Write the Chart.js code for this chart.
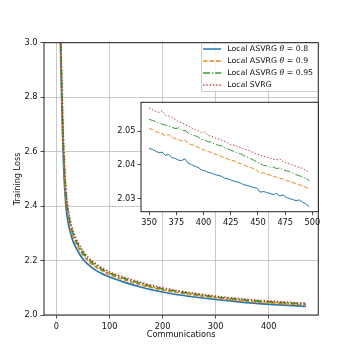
<!DOCTYPE html>
<html>
<head>
<meta charset="utf-8">
<script src="https://cdn.jsdelivr.net/npm/chart.js@4.4.0/dist/chart.umd.min.js"></script>
<style>
  body { margin: 0; background: #fff; }
  #wrap { position: relative; width: 354px; height: 354px; }
  #wrap canvas { position: absolute; left: 0; top: 0; }
  #legend {
    position: absolute; left: 200.7px; top: 42.7px; width: 117.6px; height: 49.6px;
    box-sizing: border-box; border: 1px solid #ccc; border-radius: 2px;
    background: rgba(255, 255, 255, 0.8); z-index: 5;
    font: 7.8px 'DejaVu Sans', sans-serif; color: #111;
  }
  .row { position: absolute; left: 0; height: 10px; width: 116px; }
  .row svg { position: absolute; left: 1.5px; top: 2px; }
  .row span { position: absolute; left: 25.5px; top: 0; line-height: 10px; white-space: nowrap; }
</style>
</head>
<body>
<div id="wrap">
  <canvas id="main" width="354" height="354"></canvas>
  <canvas id="inset" width="354" height="354"></canvas>
  <div id="legend">
    <div class="row" style="top:0.6px"><svg width="18" height="6"><line x1="0" y1="3" x2="18" y2="3" stroke="#1f77b4" stroke-width="1.5"/></svg><span>Local ASVRG <i>θ</i> = 0.8</span></div>
    <div class="row" style="top:12.6px"><svg width="18" height="6"><line x1="0" y1="3" x2="18" y2="3" stroke="#ff7f0e" stroke-width="1.5" stroke-dasharray="4.5 2"/></svg><span>Local ASVRG <i>θ</i> = 0.9</span></div>
    <div class="row" style="top:24.6px"><svg width="18" height="6"><line x1="0" y1="3" x2="18" y2="3" stroke="#2ca02c" stroke-width="1.5" stroke-dasharray="7 2 1.3 2"/></svg><span>Local ASVRG <i>θ</i> = 0.95</span></div>
    <div class="row" style="top:36.6px"><svg width="18" height="6"><line x1="0" y1="3" x2="18" y2="3" stroke="#d62728" stroke-width="1.5" stroke-dasharray="1.3 2"/></svg><span>Local SVRG</span></div>
  </div>
</div>
<script>
// main plot: communications vs training loss
const xMain = [6, 8, 10, 12, 14, 16, 18, 21, 24, 28, 33, 40, 50, 60, 75, 90, 110, 130, 160, 190, 220, 260, 300, 340, 380, 420, 470];
const mainBlue   = [3.15, 2.95, 2.78, 2.63, 2.52, 2.45, 2.395, 2.35, 2.32, 2.29, 2.262, 2.235, 2.205, 2.185, 2.163, 2.148, 2.132, 2.119, 2.102, 2.088, 2.077, 2.066, 2.057, 2.049, 2.042, 2.037, 2.032];
const mainOrange = [3.2, 2.99, 2.82, 2.67, 2.56, 2.48, 2.43, 2.38, 2.345, 2.31, 2.28, 2.252, 2.22, 2.198, 2.175, 2.158, 2.141, 2.128, 2.11, 2.096, 2.085, 2.073, 2.063, 2.054, 2.047, 2.042, 2.037];
const mainGreen  = [3.22, 3.01, 2.84, 2.69, 2.58, 2.5, 2.445, 2.39, 2.355, 2.32, 2.29, 2.26, 2.228, 2.205, 2.181, 2.163, 2.146, 2.133, 2.115, 2.1, 2.089, 2.077, 2.066, 2.058, 2.051, 2.046, 2.04];
const mainRed    = [3.24, 3.03, 2.86, 2.71, 2.6, 2.52, 2.46, 2.4, 2.365, 2.33, 2.298, 2.268, 2.235, 2.211, 2.187, 2.168, 2.15, 2.137, 2.119, 2.104, 2.092, 2.08, 2.069, 2.061, 2.054, 2.049, 2.043];

// zoomed inset, 350..497
const xInset = [350, 353, 356, 359, 362, 365, 368, 371, 374, 377, 380, 383, 386, 389, 392, 395, 398, 401, 404, 407, 410, 413, 416, 419, 422, 425, 428, 431, 434, 437, 440, 443, 446, 449, 452, 455, 458, 461, 464, 467, 470, 473, 476, 479, 482, 485, 488, 491, 494, 497];
const insetBlue = [2.0449, 2.0446, 2.0441, 2.0436, 2.0438, 2.0428, 2.0431, 2.0422, 2.0419, 2.0414, 2.0413, 2.0418, 2.0405, 2.0401, 2.0396, 2.0393, 2.0385, 2.0383, 2.0378, 2.0376, 2.0372, 2.0369, 2.0367, 2.0361, 2.0359, 2.0355, 2.0352, 2.0349, 2.0346, 2.0341, 2.0339, 2.0336, 2.0333, 2.0331, 2.0319, 2.0321, 2.0318, 2.0315, 2.0312, 2.0315, 2.0308, 2.0311, 2.0303, 2.0300, 2.0297, 2.0294, 2.0296, 2.0289, 2.0284, 2.0276];
const insetOrange = [2.0508, 2.0505, 2.0499, 2.0496, 2.0492, 2.0487, 2.0490, 2.0482, 2.0478, 2.0475, 2.0471, 2.0474, 2.0464, 2.0460, 2.0458, 2.0452, 2.0448, 2.0443, 2.0440, 2.0437, 2.0432, 2.0430, 2.0426, 2.0421, 2.0418, 2.0414, 2.0412, 2.0406, 2.0404, 2.0400, 2.0395, 2.0393, 2.0388, 2.0384, 2.0375, 2.0377, 2.0372, 2.0370, 2.0366, 2.0363, 2.0360, 2.0358, 2.0353, 2.0351, 2.0347, 2.0345, 2.0340, 2.0338, 2.0333, 2.0327];
const insetGreen = [2.0536, 2.0532, 2.0529, 2.0524, 2.0521, 2.0518, 2.0515, 2.0512, 2.0508, 2.0510, 2.0501, 2.0503, 2.0494, 2.0490, 2.0487, 2.0483, 2.0476, 2.0474, 2.0469, 2.0468, 2.0462, 2.0459, 2.0457, 2.0451, 2.0448, 2.0444, 2.0440, 2.0435, 2.0433, 2.0427, 2.0424, 2.0419, 2.0414, 2.0409, 2.0403, 2.0399, 2.0397, 2.0393, 2.0394, 2.0389, 2.0391, 2.0385, 2.0383, 2.0380, 2.0376, 2.0371, 2.0368, 2.0364, 2.0360, 2.0353];
const insetRed = [2.0569, 2.0564, 2.0559, 2.0556, 2.0561, 2.0547, 2.0545, 2.0541, 2.0535, 2.0528, 2.0526, 2.0520, 2.0516, 2.0510, 2.0505, 2.0502, 2.0496, 2.0498, 2.0488, 2.0485, 2.0481, 2.0478, 2.0475, 2.0470, 2.0466, 2.0460, 2.0459, 2.0454, 2.0452, 2.0447, 2.0445, 2.0441, 2.0436, 2.0432, 2.0429, 2.0425, 2.0424, 2.0420, 2.0417, 2.0415, 2.0418, 2.0410, 2.0406, 2.0403, 2.0399, 2.0396, 2.0392, 2.0390, 2.0384, 2.0377];

const xTicksMain = [0, 100, 200, 300, 400];
const yTicksMain = [2.0, 2.2, 2.4, 2.6, 2.8, 3.0];
const xTicksInset = [350, 375, 400, 425, 450, 475, 500];
const yTicksInset = [2.03, 2.04, 2.05];

const colors = ['#1f77b4', '#ff7f0e', '#2ca02c', '#d62728'];
const dashes = [[], [4.5, 2], [7, 2, 1.3, 2], [1.3, 2]];

Chart.defaults.font.family = "'DejaVu Sans', sans-serif";
Chart.defaults.font.size = 8.2;
Chart.defaults.color = '#111';

const frame = {
  id: 'frame',
  beforeDraw(chart, args, opts) {
    if (!opts.fill) return;
    const a = chart.chartArea, ctx = chart.ctx;
    ctx.save();
    ctx.fillStyle = '#fff';
    ctx.fillRect(a.left, a.top, a.right - a.left, a.bottom - a.top);
    ctx.restore();
  },
  afterDraw(chart) {
    const a = chart.chartArea, ctx = chart.ctx;
    ctx.save();
    ctx.strokeStyle = '#222';
    ctx.lineWidth = 1;
    ctx.strokeRect(a.left, a.top, a.right - a.left, a.bottom - a.top);
    ctx.restore();
  }
};

function makeSets(xs, list, width, smooth) {
  return list.map((ys, i) => ({
    data: xs.map((x, j) => ({ x: x, y: ys[j] })),
    borderColor: colors[i],
    borderDash: dashes[i],
    borderWidth: width,
    pointRadius: 0,
    fill: false,
    order: 3 - i,
    cubicInterpolationMode: smooth ? 'monotone' : 'default',
    tension: 0
  }));
}

const tickGrid = { tickColor: '#222', tickLength: 3.5, tickWidth: 0.8 };

new Chart(document.getElementById('main'), {
  type: 'line',
  data: { datasets: makeSets(xMain, [mainBlue, mainOrange, mainGreen, mainRed], 1.7, true) },
  options: {
    responsive: false,
    animation: false,
    layout: { padding: { left: 13.3, top: 42.7, right: 35.7, bottom: 14.6 } },
    plugins: { legend: { display: false }, tooltip: { enabled: false }, frame: {} },
    scales: {
      x: {
        type: 'linear', min: -23.5, max: 493.5,
        afterBuildTicks: s => { s.ticks = xTicksMain.map(v => ({ value: v })); },
        afterFit: s => { s.height = 24.4; },
        grid: Object.assign({ color: 'rgba(176,176,176,0.85)', lineWidth: 0.8 }, tickGrid),
        border: { display: false },
        ticks: { padding: 3, autoSkip: false, maxRotation: 0, callback: v => String(v) },
        title: { display: true, text: 'Communications', padding: 0 }
      },
      y: {
        type: 'linear', min: 2.0, max: 3.0,
        afterBuildTicks: s => { s.ticks = yTicksMain.map(v => ({ value: v })); },
        afterFit: s => { s.width = 30.7; },
        grid: Object.assign({ color: 'rgba(176,176,176,0.85)', lineWidth: 0.8 }, tickGrid),
        border: { display: false },
        ticks: { padding: 3, autoSkip: false, callback: v => v.toFixed(1) },
        title: { display: true, text: 'Training Loss', padding: 0 }
      }
    }
  },
  plugins: [frame]
});

new Chart(document.getElementById('inset'), {
  type: 'line',
  data: { datasets: makeSets(xInset, [insetBlue, insetOrange, insetGreen, insetRed], 1, false) },
  options: {
    responsive: false,
    animation: false,
    events: [],
    layout: { padding: { left: 111, top: 102.3, right: 35.7, bottom: 122.3 } },
    plugins: { legend: { display: false }, tooltip: { enabled: false }, frame: { fill: true } },
    scales: {
      x: {
        type: 'linear', min: 342.6, max: 505.4,
        afterBuildTicks: s => { s.ticks = xTicksInset.map(v => ({ value: v })); },
        afterFit: s => { s.height = 20; },
        grid: Object.assign({ drawOnChartArea: false }, tickGrid),
        border: { display: false },
        ticks: { padding: 3, autoSkip: false, maxRotation: 0, callback: v => String(v) }
      },
      y: {
        type: 'linear', min: 2.0261, max: 2.0586,
        afterBuildTicks: s => { s.ticks = yTicksInset.map(v => ({ value: v })); },
        afterFit: s => { s.width = 30; },
        grid: Object.assign({ drawOnChartArea: false }, tickGrid),
        border: { display: false },
        ticks: { padding: 2, autoSkip: false, callback: v => v.toFixed(2) }
      }
    }
  },
  plugins: [frame]
});
</script>
</body>
</html>
